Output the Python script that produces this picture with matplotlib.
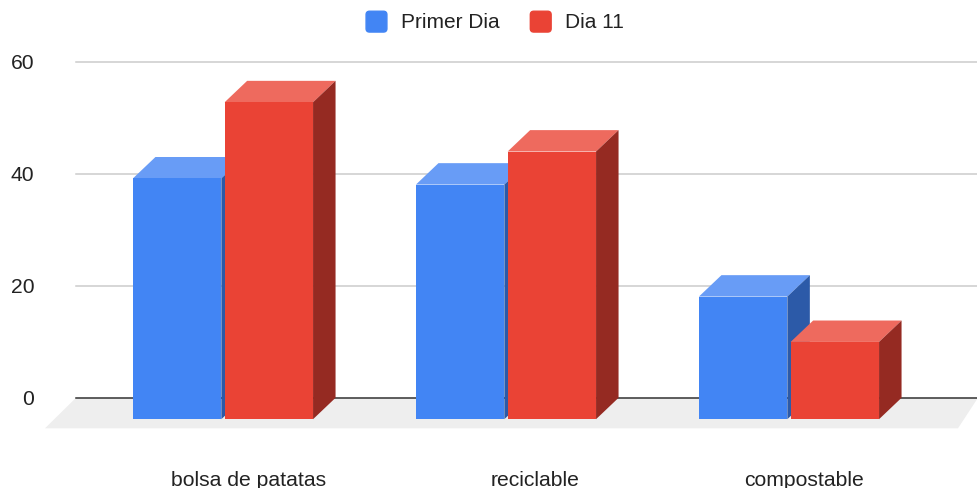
import matplotlib
matplotlib.use('Agg')
import matplotlib.pyplot as plt
from matplotlib.legend_handler import HandlerPatch
from matplotlib.patches import FancyBboxPatch, Patch, Polygon
from matplotlib.transforms import ScaledTranslation

categories = ['bolsa de patatas', 'reciclable', 'compostable']
primer_dia = [43, 41.9, 21.9]
dia_11 = [56.6, 47.8, 13.8]
y_ticks = [0, 20, 40, 60]

# Colores de cada serie: frente, tapa y lateral
BLUE = ('#4285f4', '#689cf6', '#2c5aa8')
RED = ('#ea4335', '#ee6a5e', '#952a22')

plt.rcParams['font.family'] = ['Liberation Sans', 'DejaVu Sans']

fig = plt.figure(figsize=(9.78, 4.89), dpi=100)
ax = fig.add_axes([76 / 978, 1 - 465.8 / 489, 902 / 978, 403 / 489])
ax.set_xlim(-147 / 283, 755 / 283)
ax.set_ylim(-67 / 5.6, 60)

# Profundidad de las barras y ancho en unidades de datos
bar_w = 88.4 / 283
gap = 3.3 / 283
depth_x = 22.5 / 283
depth_y = 21.4 / 5.6


def draw_bar(x, value, colors, z):
    front, top, side = colors
    x2 = x + bar_w
    y0 = -depth_y
    y1 = value - depth_y
    ax.add_patch(Polygon([(x, y1), (x2, y1), (x2 + depth_x, value), (x + depth_x, value)],
                         facecolor=top, edgecolor='none', zorder=z, clip_on=False))
    ax.add_patch(Polygon([(x2, y0), (x2, y1), (x2 + depth_x, value), (x2 + depth_x, 0)],
                         facecolor=side, edgecolor='none', zorder=z, clip_on=False))
    ax.add_patch(Polygon([(x, y0), (x2, y0), (x2, y1), (x, y1)],
                         facecolor=front, edgecolor='none', zorder=z, clip_on=False))


def rounded_square(legend, orig_handle, xdescent, ydescent, width, height, fontsize):
    # Cuadrado de 21 px con esquinas redondeadas
    return FancyBboxPatch((-xdescent + 2, -ydescent - 0.9), 11.5, 11.5,
                          boxstyle='round,pad=1.75,rounding_size=2.5', linewidth=0)


# Suelo gris bajo las barras
xmin, xmax = ax.get_xlim()
floor_y = -30.5 / 5.6
ax.add_patch(Polygon([(xmin, 0), (xmax, 0), (xmax - 20 / 283, floor_y), (xmin - 31 / 283, floor_y)],
                     facecolor='#eeeeee', edgecolor='none', zorder=1, clip_on=False))

# Lineas de la cuadricula
for t in y_ticks:
    if t == 0:
        ax.axhline(t, color='#333333', linewidth=1.1, zorder=2, clip_on=False)
    else:
        ax.axhline(t, color='#cccccc', linewidth=1.1, zorder=2, clip_on=False)

for i in range(len(categories)):
    left = i - bar_w - gap / 2
    draw_bar(left, primer_dia[i], BLUE, 3)
    draw_bar(left + bar_w + gap, dia_11[i], RED, 4)

for spine in ax.spines.values():
    spine.set_visible(False)

ax.set_yticks(y_ticks)
ax.set_yticklabels([str(t) for t in y_ticks], fontsize=15.2, color='#222222')
ax.tick_params(axis='y', length=0, pad=30)
for label in ax.get_yticklabels():
    label.set_transform(label.get_transform() + ScaledTranslation(0, 1 / 100, fig.dpi_scale_trans))

# Las etiquetas van algo desplazadas respecto al frente de las barras
ax.set_xticks([0.09, 1.102, 2.053])
ax.set_xticklabels(categories, fontsize=15.2, color='#222222')
ax.tick_params(axis='x', length=0, pad=4)

handles = [Patch(facecolor=BLUE[0], edgecolor=BLUE[0], label='Primer Dia'),
           Patch(facecolor=RED[0], edgecolor=RED[0], label='Dia 11')]
fig.legend(handles=handles, loc='center', bbox_to_anchor=(495 / 978, 1 - 22 / 489), ncol=2, frameon=False,
           fontsize=15, labelcolor='#222222', handlelength=0.9, handleheight=0.9,
           handletextpad=0.8, columnspacing=1.45, borderpad=0, borderaxespad=0,
           handler_map={Patch: HandlerPatch(patch_func=rounded_square)})

fig.savefig('out.png', dpi=100)
